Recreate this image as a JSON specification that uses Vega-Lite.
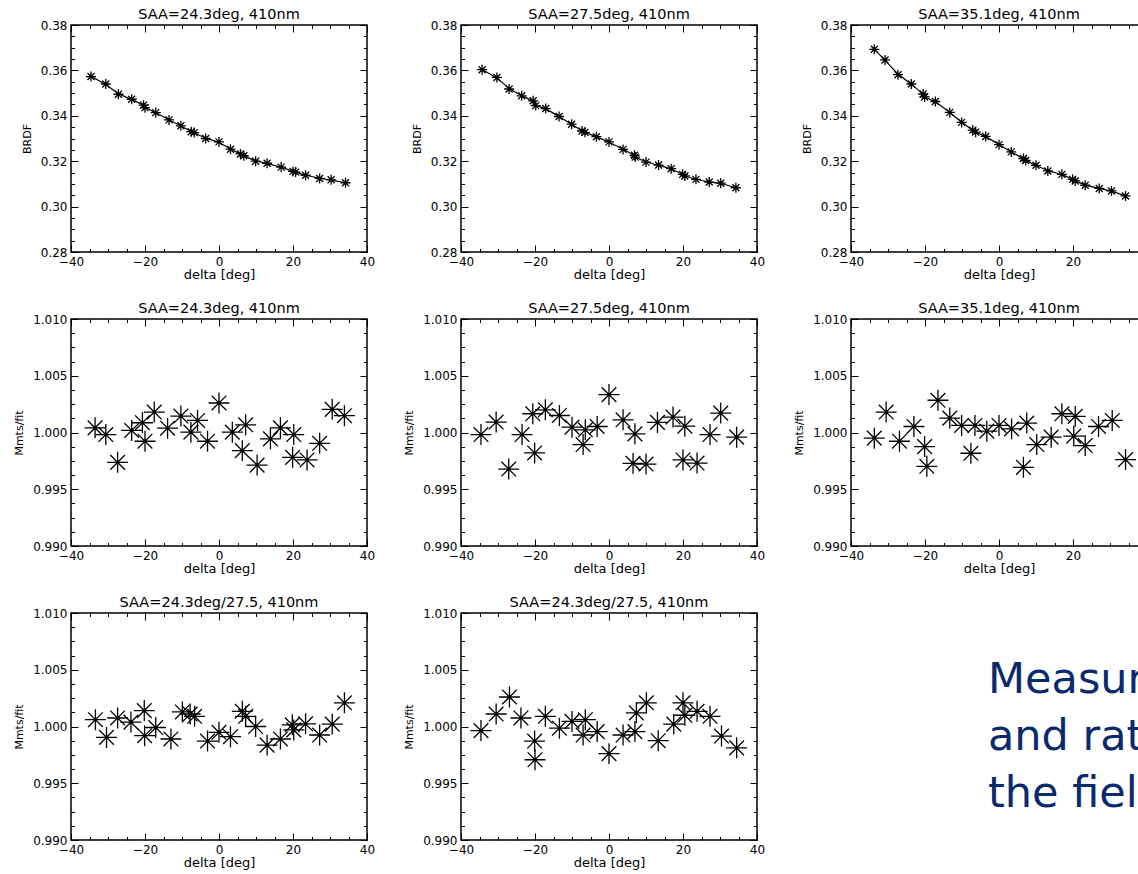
{
  "$schema": "https://vega.github.io/schema/vega-lite/v6.json",
  "background": "white",
  "padding": {"left": 12, "top": 5, "right": 0, "bottom": 0},
  "columns": 3,
  "spacing": {"row": 67, "column": 94},
  "bounds": "flush",
  "datasets": {
    "p1": [{"d":-34.6,"v":0.3573},{"d":-30.6,"v":0.354},{"d":-27.2,"v":0.3495},{"d":-23.6,"v":0.3473},{"d":-20.4,"v":0.3447},{"d":-20.0,"v":0.3436},{"d":-17.1,"v":0.3414},{"d":-13.5,"v":0.3382},{"d":-10.3,"v":0.3356},{"d":-7.5,"v":0.333},{"d":-6.7,"v":0.3326},{"d":-3.6,"v":0.33},{"d":0.0,"v":0.3285},{"d":3.1,"v":0.3253},{"d":5.8,"v":0.3232},{"d":6.7,"v":0.3224},{"d":9.9,"v":0.32},{"d":13.0,"v":0.3191},{"d":16.8,"v":0.3174},{"d":20.0,"v":0.3155},{"d":20.7,"v":0.3152},{"d":23.4,"v":0.3138},{"d":27.2,"v":0.3124},{"d":30.3,"v":0.3118},{"d":34.2,"v":0.3105}],
    "p2": [{"d":-34.3,"v":0.3603},{"d":-30.3,"v":0.3569},{"d":-27.0,"v":0.3518},{"d":-23.6,"v":0.3488},{"d":-20.5,"v":0.3466},{"d":-19.8,"v":0.3445},{"d":-17.1,"v":0.3432},{"d":-13.5,"v":0.3397},{"d":-10.1,"v":0.3363},{"d":-7.3,"v":0.3333},{"d":-6.5,"v":0.3327},{"d":-3.4,"v":0.3308},{"d":0.0,"v":0.3285},{"d":3.8,"v":0.3252},{"d":6.9,"v":0.3226},{"d":7.1,"v":0.3218},{"d":10.0,"v":0.3196},{"d":13.4,"v":0.3183},{"d":16.8,"v":0.3167},{"d":19.9,"v":0.3142},{"d":20.5,"v":0.3135},{"d":23.5,"v":0.312},{"d":27.1,"v":0.3108},{"d":30.2,"v":0.3103},{"d":34.3,"v":0.3083}],
    "p3": [{"d":-33.7,"v":0.3693},{"d":-30.8,"v":0.3646},{"d":-27.3,"v":0.3581},{"d":-23.7,"v":0.354},{"d":-20.5,"v":0.3496},{"d":-20.1,"v":0.3483},{"d":-17.2,"v":0.3463},{"d":-13.3,"v":0.3415},{"d":-10.1,"v":0.3371},{"d":-7.1,"v":0.3337},{"d":-6.3,"v":0.3328},{"d":-3.6,"v":0.3309},{"d":0.0,"v":0.3273},{"d":3.3,"v":0.3241},{"d":6.6,"v":0.3212},{"d":7.2,"v":0.3203},{"d":10.0,"v":0.3182},{"d":13.2,"v":0.3157},{"d":17.0,"v":0.3142},{"d":19.9,"v":0.312},{"d":20.6,"v":0.3113},{"d":23.3,"v":0.3094},{"d":27.1,"v":0.308},{"d":30.4,"v":0.3069},{"d":34.2,"v":0.3047}],
    "p4": [{"d":-33.5,"v":1.00041},{"d":-30.6,"v":0.99982},{"d":-27.4,"v":0.99737},{"d":-23.6,"v":1.00018},{"d":-20.7,"v":1.00086},{"d":-20.0,"v":0.99923},{"d":-17.5,"v":1.0018},{"d":-13.9,"v":1.00038},{"d":-10.3,"v":1.00145},{"d":-7.6,"v":1.00003},{"d":-5.8,"v":1.00106},{"d":-3.1,"v":0.99923},{"d":0.0,"v":1.0026},{"d":3.6,"v":1.00003},{"d":6.3,"v":0.9984},{"d":7.2,"v":1.00068},{"d":10.3,"v":0.99713},{"d":13.9,"v":0.99944},{"d":16.6,"v":1.00041},{"d":19.9,"v":0.99781},{"d":20.2,"v":0.99982},{"d":23.8,"v":0.99758},{"d":27.2,"v":0.99905},{"d":30.6,"v":1.00204},{"d":33.9,"v":1.00148}],
    "p5": [{"d":-34.6,"v":0.99982},{"d":-30.5,"v":1.00092},{"d":-27.1,"v":0.99678},{"d":-23.5,"v":0.99982},{"d":-20.6,"v":1.00165},{"d":-20.1,"v":0.9982},{"d":-17.2,"v":1.002},{"d":-13.4,"v":1.0015},{"d":-10.0,"v":1.00047},{"d":-7.0,"v":0.99894},{"d":-6.4,"v":1.00024},{"d":-3.2,"v":1.00053},{"d":0.0,"v":1.00334},{"d":3.8,"v":1.00112},{"d":6.5,"v":0.99728},{"d":7.0,"v":0.99988},{"d":10.0,"v":0.99722},{"d":13.1,"v":1.00089},{"d":17.3,"v":1.00136},{"d":20.0,"v":0.99758},{"d":20.5,"v":1.00056},{"d":23.8,"v":0.99731},{"d":27.3,"v":0.99982},{"d":30.2,"v":1.00171},{"d":34.5,"v":0.99959}],
    "p6": [{"d":-33.7,"v":0.9995},{"d":-30.5,"v":1.0018},{"d":-26.9,"v":0.99923},{"d":-23.0,"v":1.00053},{"d":-20.1,"v":0.99876},{"d":-19.5,"v":0.99702},{"d":-16.5,"v":1.00284},{"d":-13.3,"v":1.00127},{"d":-10.1,"v":1.00062},{"d":-7.6,"v":0.99817},{"d":-6.5,"v":1.00062},{"d":-3.3,"v":1.00012},{"d":0.0,"v":1.00062},{"d":3.4,"v":1.00032},{"d":6.6,"v":0.99693},{"d":7.5,"v":1.00083},{"d":10.2,"v":0.99894},{"d":14.1,"v":0.99959},{"d":17.0,"v":1.00165},{"d":20.2,"v":0.99968},{"d":20.6,"v":1.00142},{"d":23.3,"v":0.99885},{"d":26.9,"v":1.00053},{"d":30.6,"v":1.00106},{"d":34.2,"v":0.99761}],
    "p7": [{"d":-33.4,"v":1.0006},{"d":-30.4,"v":0.99904},{"d":-27.4,"v":1.00075},{"d":-23.8,"v":1.00039},{"d":-20.2,"v":1.0014},{"d":-20.1,"v":0.99919},{"d":-17.1,"v":0.99991},{"d":-13.0,"v":0.9989},{"d":-9.9,"v":1.00128},{"d":-7.8,"v":1.0011},{"d":-6.6,"v":1.0009},{"d":-3.1,"v":0.99872},{"d":0.0,"v":0.99949},{"d":3.1,"v":0.9991},{"d":6.3,"v":1.00134},{"d":7.2,"v":1.0009},{"d":9.9,"v":1.0},{"d":13.0,"v":0.99836},{"d":16.6,"v":0.9989},{"d":19.8,"v":1.00015},{"d":20.2,"v":0.9997},{"d":23.4,"v":1.00024},{"d":27.2,"v":0.99925},{"d":30.6,"v":1.00021},{"d":33.9,"v":1.00209}],
    "p8": [{"d":-34.6,"v":0.99964},{"d":-30.5,"v":1.0011},{"d":-26.9,"v":1.0026},{"d":-23.8,"v":1.00075},{"d":-20.1,"v":0.99872},{"d":-20.0,"v":0.99707},{"d":-17.2,"v":1.0009},{"d":-13.4,"v":0.99985},{"d":-10.0,"v":1.00045},{"d":-7.0,"v":0.99925},{"d":-6.4,"v":1.0006},{"d":-3.2,"v":0.99955},{"d":0.0,"v":0.99761},{"d":3.8,"v":0.99925},{"d":7.0,"v":0.99955},{"d":7.4,"v":1.0012},{"d":10.1,"v":1.00209},{"d":13.3,"v":0.99875},{"d":17.5,"v":1.00021},{"d":20.0,"v":1.00209},{"d":20.5,"v":1.00099},{"d":23.8,"v":1.00134},{"d":27.3,"v":1.0009},{"d":30.4,"v":0.99916},{"d":34.5,"v":0.99812}],
    "note": [{"t": "Measurements\nand ratios for\nthe field data"}]
  },
  "concat": [
    {
      "title": "SAA=24.3deg, 410nm",
      "width": 296, "height": 227,
      "data": {"name": "p1"},
      "layer": [
        {"mark": {"type": "line", "interpolate": "basis", "color": "black", "strokeWidth": 1.2},
         "encoding": {
           "x": {"field": "d", "type": "quantitative", "scale": {"domain": [-40, 40], "nice": false}, "axis": {"orient": "bottom", "values": [-40,-35,-30,-25,-20,-15,-10,-5,0,5,10,15,20,25,30,35,40], "tickSize": {"condition": {"test": "datum.value % 20 === 0", "value": -7}, "value": -3.5}, "labelExpr": "datum.value % 20 === 0 ? datum.label : ''", "title": "delta [deg]"}},
           "y": {"field": "v", "type": "quantitative", "scale": {"domain": [0.28, 0.38], "nice": false, "zero": false}, "axis": {"orient": "left", "values": [0.28,0.285,0.29,0.295,0.3,0.305,0.31,0.315,0.32,0.325,0.33,0.335,0.34,0.345,0.35,0.355,0.36,0.365,0.37,0.375,0.38], "tickSize": {"condition": {"test": "round(datum.value*1000) % 20 === 0", "value": -7}, "value": -3.5}, "labelExpr": "round(datum.value*1000) % 20 === 0 ? format(datum.value, '.2f') : ''", "title": "BRDF"}}
         }},
        {"mark": {"type": "point", "shape": "M0,-1L0,1M-1,0L1,0M-0.7,-0.7L0.7,0.7M-0.7,0.7L0.7,-0.7", "size": 100, "filled": false, "color": "black", "strokeWidth": 1.3, "opacity": 1},
         "encoding": {
           "x": {"field": "d", "type": "quantitative", "axis": {"orient": "top", "values": [-40,-35,-30,-25,-20,-15,-10,-5,0,5,10,15,20,25,30,35,40], "tickSize": {"condition": {"test": "datum.value % 20 === 0", "value": -7}, "value": -3.5}, "labels": false, "title": null}},
           "y": {"field": "v", "type": "quantitative", "axis": {"orient": "right", "values": [0.28,0.285,0.29,0.295,0.3,0.305,0.31,0.315,0.32,0.325,0.33,0.335,0.34,0.345,0.35,0.355,0.36,0.365,0.37,0.375,0.38], "tickSize": {"condition": {"test": "round(datum.value*1000) % 20 === 0", "value": -7}, "value": -3.5}, "labels": false, "title": null}}
         }}
      ],
      "resolve": {"axis": {"x": "independent", "y": "independent"}}
    },
    {
      "title": "SAA=27.5deg, 410nm",
      "width": 296, "height": 227,
      "data": {"name": "p2"},
      "layer": [
        {"mark": {"type": "line", "interpolate": "basis", "color": "black", "strokeWidth": 1.2},
         "encoding": {
           "x": {"field": "d", "type": "quantitative", "scale": {"domain": [-40, 40], "nice": false}, "axis": {"orient": "bottom", "values": [-40,-35,-30,-25,-20,-15,-10,-5,0,5,10,15,20,25,30,35,40], "tickSize": {"condition": {"test": "datum.value % 20 === 0", "value": -7}, "value": -3.5}, "labelExpr": "datum.value % 20 === 0 ? datum.label : ''", "title": "delta [deg]"}},
           "y": {"field": "v", "type": "quantitative", "scale": {"domain": [0.28, 0.38], "nice": false, "zero": false}, "axis": {"orient": "left", "values": [0.28,0.285,0.29,0.295,0.3,0.305,0.31,0.315,0.32,0.325,0.33,0.335,0.34,0.345,0.35,0.355,0.36,0.365,0.37,0.375,0.38], "tickSize": {"condition": {"test": "round(datum.value*1000) % 20 === 0", "value": -7}, "value": -3.5}, "labelExpr": "round(datum.value*1000) % 20 === 0 ? format(datum.value, '.2f') : ''", "title": "BRDF"}}
         }},
        {"mark": {"type": "point", "shape": "M0,-1L0,1M-1,0L1,0M-0.7,-0.7L0.7,0.7M-0.7,0.7L0.7,-0.7", "size": 100, "filled": false, "color": "black", "strokeWidth": 1.3, "opacity": 1},
         "encoding": {
           "x": {"field": "d", "type": "quantitative", "axis": {"orient": "top", "values": [-40,-35,-30,-25,-20,-15,-10,-5,0,5,10,15,20,25,30,35,40], "tickSize": {"condition": {"test": "datum.value % 20 === 0", "value": -7}, "value": -3.5}, "labels": false, "title": null}},
           "y": {"field": "v", "type": "quantitative", "axis": {"orient": "right", "values": [0.28,0.285,0.29,0.295,0.3,0.305,0.31,0.315,0.32,0.325,0.33,0.335,0.34,0.345,0.35,0.355,0.36,0.365,0.37,0.375,0.38], "tickSize": {"condition": {"test": "round(datum.value*1000) % 20 === 0", "value": -7}, "value": -3.5}, "labels": false, "title": null}}
         }}
      ],
      "resolve": {"axis": {"x": "independent", "y": "independent"}}
    },
    {
      "title": "SAA=35.1deg, 410nm",
      "width": 296, "height": 227,
      "data": {"name": "p3"},
      "layer": [
        {"mark": {"type": "line", "interpolate": "basis", "color": "black", "strokeWidth": 1.2},
         "encoding": {
           "x": {"field": "d", "type": "quantitative", "scale": {"domain": [-40, 40], "nice": false}, "axis": {"orient": "bottom", "values": [-40,-35,-30,-25,-20,-15,-10,-5,0,5,10,15,20,25,30,35,40], "tickSize": {"condition": {"test": "datum.value % 20 === 0", "value": -7}, "value": -3.5}, "labelExpr": "datum.value % 20 === 0 ? datum.label : ''", "title": "delta [deg]"}},
           "y": {"field": "v", "type": "quantitative", "scale": {"domain": [0.28, 0.38], "nice": false, "zero": false}, "axis": {"orient": "left", "values": [0.28,0.285,0.29,0.295,0.3,0.305,0.31,0.315,0.32,0.325,0.33,0.335,0.34,0.345,0.35,0.355,0.36,0.365,0.37,0.375,0.38], "tickSize": {"condition": {"test": "round(datum.value*1000) % 20 === 0", "value": -7}, "value": -3.5}, "labelExpr": "round(datum.value*1000) % 20 === 0 ? format(datum.value, '.2f') : ''", "title": "BRDF"}}
         }},
        {"mark": {"type": "point", "shape": "M0,-1L0,1M-1,0L1,0M-0.7,-0.7L0.7,0.7M-0.7,0.7L0.7,-0.7", "size": 100, "filled": false, "color": "black", "strokeWidth": 1.3, "opacity": 1},
         "encoding": {
           "x": {"field": "d", "type": "quantitative", "axis": {"orient": "top", "values": [-40,-35,-30,-25,-20,-15,-10,-5,0,5,10,15,20,25,30,35,40], "tickSize": {"condition": {"test": "datum.value % 20 === 0", "value": -7}, "value": -3.5}, "labels": false, "title": null}},
           "y": {"field": "v", "type": "quantitative", "axis": {"orient": "right", "values": [0.28,0.285,0.29,0.295,0.3,0.305,0.31,0.315,0.32,0.325,0.33,0.335,0.34,0.345,0.35,0.355,0.36,0.365,0.37,0.375,0.38], "tickSize": {"condition": {"test": "round(datum.value*1000) % 20 === 0", "value": -7}, "value": -3.5}, "labels": false, "title": null}}
         }}
      ],
      "resolve": {"axis": {"x": "independent", "y": "independent"}}
    },
    {
      "title": "SAA=24.3deg, 410nm",
      "width": 296, "height": 227,
      "data": {"name": "p4"},
      "layer": [
        {"mark": {"type": "point", "shape": "M0,-1L0,1M-1,0L1,0M-0.7,-0.7L0.7,0.7M-0.7,0.7L0.7,-0.7", "size": 440, "filled": false, "color": "black", "strokeWidth": 1.3, "opacity": 1},
         "encoding": {
           "x": {"field": "d", "type": "quantitative", "scale": {"domain": [-40, 40], "nice": false}, "axis": {"orient": "bottom", "values": [-40,-35,-30,-25,-20,-15,-10,-5,0,5,10,15,20,25,30,35,40], "tickSize": {"condition": {"test": "datum.value % 20 === 0", "value": -7}, "value": -3.5}, "labelExpr": "datum.value % 20 === 0 ? datum.label : ''", "title": "delta [deg]"}},
           "y": {"field": "v", "type": "quantitative", "scale": {"domain": [0.99, 1.01], "nice": false, "zero": false}, "axis": {"orient": "left", "values": [0.99,0.99125,0.9925,0.99375,0.995,0.99625,0.9975,0.99875,1.0,1.00125,1.0025,1.00375,1.005,1.00625,1.0075,1.00875,1.01], "tickSize": {"condition": {"test": "round(datum.value*8000) % 40 === 0", "value": -7}, "value": -3.5}, "labelExpr": "round(datum.value*8000) % 40 === 0 ? format(datum.value, '.3f') : ''", "title": "Mmts/fit"}}
         }},
        {"mark": {"type": "point", "opacity": 0},
         "encoding": {
           "x": {"field": "d", "type": "quantitative", "axis": {"orient": "top", "values": [-40,-35,-30,-25,-20,-15,-10,-5,0,5,10,15,20,25,30,35,40], "tickSize": {"condition": {"test": "datum.value % 20 === 0", "value": -7}, "value": -3.5}, "labels": false, "title": null}},
           "y": {"field": "v", "type": "quantitative", "axis": {"orient": "right", "values": [0.99,0.99125,0.9925,0.99375,0.995,0.99625,0.9975,0.99875,1.0,1.00125,1.0025,1.00375,1.005,1.00625,1.0075,1.00875,1.01], "tickSize": {"condition": {"test": "round(datum.value*8000) % 40 === 0", "value": -7}, "value": -3.5}, "labels": false, "title": null}}
         }}
      ],
      "resolve": {"axis": {"x": "independent", "y": "independent"}}
    },
    {
      "title": "SAA=27.5deg, 410nm",
      "width": 296, "height": 227,
      "data": {"name": "p5"},
      "layer": [
        {"mark": {"type": "point", "shape": "M0,-1L0,1M-1,0L1,0M-0.7,-0.7L0.7,0.7M-0.7,0.7L0.7,-0.7", "size": 440, "filled": false, "color": "black", "strokeWidth": 1.3, "opacity": 1},
         "encoding": {
           "x": {"field": "d", "type": "quantitative", "scale": {"domain": [-40, 40], "nice": false}, "axis": {"orient": "bottom", "values": [-40,-35,-30,-25,-20,-15,-10,-5,0,5,10,15,20,25,30,35,40], "tickSize": {"condition": {"test": "datum.value % 20 === 0", "value": -7}, "value": -3.5}, "labelExpr": "datum.value % 20 === 0 ? datum.label : ''", "title": "delta [deg]"}},
           "y": {"field": "v", "type": "quantitative", "scale": {"domain": [0.99, 1.01], "nice": false, "zero": false}, "axis": {"orient": "left", "values": [0.99,0.99125,0.9925,0.99375,0.995,0.99625,0.9975,0.99875,1.0,1.00125,1.0025,1.00375,1.005,1.00625,1.0075,1.00875,1.01], "tickSize": {"condition": {"test": "round(datum.value*8000) % 40 === 0", "value": -7}, "value": -3.5}, "labelExpr": "round(datum.value*8000) % 40 === 0 ? format(datum.value, '.3f') : ''", "title": "Mmts/fit"}}
         }},
        {"mark": {"type": "point", "opacity": 0},
         "encoding": {
           "x": {"field": "d", "type": "quantitative", "axis": {"orient": "top", "values": [-40,-35,-30,-25,-20,-15,-10,-5,0,5,10,15,20,25,30,35,40], "tickSize": {"condition": {"test": "datum.value % 20 === 0", "value": -7}, "value": -3.5}, "labels": false, "title": null}},
           "y": {"field": "v", "type": "quantitative", "axis": {"orient": "right", "values": [0.99,0.99125,0.9925,0.99375,0.995,0.99625,0.9975,0.99875,1.0,1.00125,1.0025,1.00375,1.005,1.00625,1.0075,1.00875,1.01], "tickSize": {"condition": {"test": "round(datum.value*8000) % 40 === 0", "value": -7}, "value": -3.5}, "labels": false, "title": null}}
         }}
      ],
      "resolve": {"axis": {"x": "independent", "y": "independent"}}
    },
    {
      "title": "SAA=35.1deg, 410nm",
      "width": 296, "height": 227,
      "data": {"name": "p6"},
      "layer": [
        {"mark": {"type": "point", "shape": "M0,-1L0,1M-1,0L1,0M-0.7,-0.7L0.7,0.7M-0.7,0.7L0.7,-0.7", "size": 440, "filled": false, "color": "black", "strokeWidth": 1.3, "opacity": 1},
         "encoding": {
           "x": {"field": "d", "type": "quantitative", "scale": {"domain": [-40, 40], "nice": false}, "axis": {"orient": "bottom", "values": [-40,-35,-30,-25,-20,-15,-10,-5,0,5,10,15,20,25,30,35,40], "tickSize": {"condition": {"test": "datum.value % 20 === 0", "value": -7}, "value": -3.5}, "labelExpr": "datum.value % 20 === 0 ? datum.label : ''", "title": "delta [deg]"}},
           "y": {"field": "v", "type": "quantitative", "scale": {"domain": [0.99, 1.01], "nice": false, "zero": false}, "axis": {"orient": "left", "values": [0.99,0.99125,0.9925,0.99375,0.995,0.99625,0.9975,0.99875,1.0,1.00125,1.0025,1.00375,1.005,1.00625,1.0075,1.00875,1.01], "tickSize": {"condition": {"test": "round(datum.value*8000) % 40 === 0", "value": -7}, "value": -3.5}, "labelExpr": "round(datum.value*8000) % 40 === 0 ? format(datum.value, '.3f') : ''", "title": "Mmts/fit"}}
         }},
        {"mark": {"type": "point", "opacity": 0},
         "encoding": {
           "x": {"field": "d", "type": "quantitative", "axis": {"orient": "top", "values": [-40,-35,-30,-25,-20,-15,-10,-5,0,5,10,15,20,25,30,35,40], "tickSize": {"condition": {"test": "datum.value % 20 === 0", "value": -7}, "value": -3.5}, "labels": false, "title": null}},
           "y": {"field": "v", "type": "quantitative", "axis": {"orient": "right", "values": [0.99,0.99125,0.9925,0.99375,0.995,0.99625,0.9975,0.99875,1.0,1.00125,1.0025,1.00375,1.005,1.00625,1.0075,1.00875,1.01], "tickSize": {"condition": {"test": "round(datum.value*8000) % 40 === 0", "value": -7}, "value": -3.5}, "labels": false, "title": null}}
         }}
      ],
      "resolve": {"axis": {"x": "independent", "y": "independent"}}
    },
    {
      "title": "SAA=24.3deg/27.5, 410nm",
      "width": 296, "height": 227,
      "data": {"name": "p7"},
      "layer": [
        {"mark": {"type": "point", "shape": "M0,-1L0,1M-1,0L1,0M-0.7,-0.7L0.7,0.7M-0.7,0.7L0.7,-0.7", "size": 440, "filled": false, "color": "black", "strokeWidth": 1.3, "opacity": 1},
         "encoding": {
           "x": {"field": "d", "type": "quantitative", "scale": {"domain": [-40, 40], "nice": false}, "axis": {"orient": "bottom", "values": [-40,-35,-30,-25,-20,-15,-10,-5,0,5,10,15,20,25,30,35,40], "tickSize": {"condition": {"test": "datum.value % 20 === 0", "value": -7}, "value": -3.5}, "labelExpr": "datum.value % 20 === 0 ? datum.label : ''", "title": "delta [deg]"}},
           "y": {"field": "v", "type": "quantitative", "scale": {"domain": [0.99, 1.01], "nice": false, "zero": false}, "axis": {"orient": "left", "values": [0.99,0.99125,0.9925,0.99375,0.995,0.99625,0.9975,0.99875,1.0,1.00125,1.0025,1.00375,1.005,1.00625,1.0075,1.00875,1.01], "tickSize": {"condition": {"test": "round(datum.value*8000) % 40 === 0", "value": -7}, "value": -3.5}, "labelExpr": "round(datum.value*8000) % 40 === 0 ? format(datum.value, '.3f') : ''", "title": "Mmts/fit"}}
         }},
        {"mark": {"type": "point", "opacity": 0},
         "encoding": {
           "x": {"field": "d", "type": "quantitative", "axis": {"orient": "top", "values": [-40,-35,-30,-25,-20,-15,-10,-5,0,5,10,15,20,25,30,35,40], "tickSize": {"condition": {"test": "datum.value % 20 === 0", "value": -7}, "value": -3.5}, "labels": false, "title": null}},
           "y": {"field": "v", "type": "quantitative", "axis": {"orient": "right", "values": [0.99,0.99125,0.9925,0.99375,0.995,0.99625,0.9975,0.99875,1.0,1.00125,1.0025,1.00375,1.005,1.00625,1.0075,1.00875,1.01], "tickSize": {"condition": {"test": "round(datum.value*8000) % 40 === 0", "value": -7}, "value": -3.5}, "labels": false, "title": null}}
         }}
      ],
      "resolve": {"axis": {"x": "independent", "y": "independent"}}
    },
    {
      "title": "SAA=24.3deg/27.5, 410nm",
      "width": 296, "height": 227,
      "data": {"name": "p8"},
      "layer": [
        {"mark": {"type": "point", "shape": "M0,-1L0,1M-1,0L1,0M-0.7,-0.7L0.7,0.7M-0.7,0.7L0.7,-0.7", "size": 440, "filled": false, "color": "black", "strokeWidth": 1.3, "opacity": 1},
         "encoding": {
           "x": {"field": "d", "type": "quantitative", "scale": {"domain": [-40, 40], "nice": false}, "axis": {"orient": "bottom", "values": [-40,-35,-30,-25,-20,-15,-10,-5,0,5,10,15,20,25,30,35,40], "tickSize": {"condition": {"test": "datum.value % 20 === 0", "value": -7}, "value": -3.5}, "labelExpr": "datum.value % 20 === 0 ? datum.label : ''", "title": "delta [deg]"}},
           "y": {"field": "v", "type": "quantitative", "scale": {"domain": [0.99, 1.01], "nice": false, "zero": false}, "axis": {"orient": "left", "values": [0.99,0.99125,0.9925,0.99375,0.995,0.99625,0.9975,0.99875,1.0,1.00125,1.0025,1.00375,1.005,1.00625,1.0075,1.00875,1.01], "tickSize": {"condition": {"test": "round(datum.value*8000) % 40 === 0", "value": -7}, "value": -3.5}, "labelExpr": "round(datum.value*8000) % 40 === 0 ? format(datum.value, '.3f') : ''", "title": "Mmts/fit"}}
         }},
        {"mark": {"type": "point", "opacity": 0},
         "encoding": {
           "x": {"field": "d", "type": "quantitative", "axis": {"orient": "top", "values": [-40,-35,-30,-25,-20,-15,-10,-5,0,5,10,15,20,25,30,35,40], "tickSize": {"condition": {"test": "datum.value % 20 === 0", "value": -7}, "value": -3.5}, "labels": false, "title": null}},
           "y": {"field": "v", "type": "quantitative", "axis": {"orient": "right", "values": [0.99,0.99125,0.9925,0.99375,0.995,0.99625,0.9975,0.99875,1.0,1.00125,1.0025,1.00375,1.005,1.00625,1.0075,1.00875,1.01], "tickSize": {"condition": {"test": "round(datum.value*8000) % 40 === 0", "value": -7}, "value": -3.5}, "labels": false, "title": null}}
         }}
      ],
      "resolve": {"axis": {"x": "independent", "y": "independent"}}
    },
    {
      "width": 274, "height": 227,
      "view": {"stroke": null},
      "data": {"name": "note"},
      "mark": {"type": "text", "align": "left", "baseline": "middle", "lineBreak": "\n", "lineHeight": 57, "fontSize": 43, "font": "DejaVu Sans", "color": "#0b2a6e", "dy": -47},
      "encoding": {"text": {"field": "t"}}
    }
  ],
  "config": {
    "view": {"stroke": "black", "strokeWidth": 1.5},
    "title": {"font": "DejaVu Sans", "fontSize": 14.5, "fontWeight": "normal", "color": "black", "offset": -3},
    "axis": {
      "domain": false, "grid": false, "tickColor": "black", "tickWidth": 1,
      "labelFont": "DejaVu Sans", "labelFontSize": 12, "labelColor": "black", "labelPadding": 11,
      "labelFlush": false, "labelOverlap": false,
      "titleFont": "DejaVu Sans", "titleFontWeight": "normal", "titleColor": "black"
    },
    "axisX": {"titleFontSize": 13, "titlePadding": -2},
    "axisY": {"titleFontSize": 11, "titlePadding": 8}
  }
}
